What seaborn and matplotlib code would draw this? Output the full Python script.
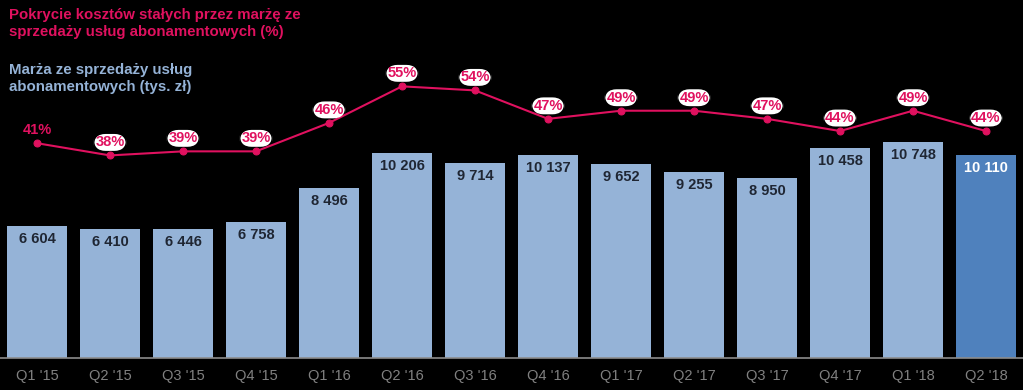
import numpy as np
import matplotlib
matplotlib.use("Agg")
import matplotlib.pyplot as plt
import seaborn as sns

quarters = ["Q1 '15", "Q2 '15", "Q3 '15", "Q4 '15", "Q1 '16", "Q2 '16", "Q3 '16",
            "Q4 '16", "Q1 '17", "Q2 '17", "Q3 '17", "Q4 '17", "Q1 '18", "Q2 '18"]
margin = [6604, 6410, 6446, 6758, 8496, 10206, 9714,
          10137, 9652, 9255, 8950, 10458, 10748, 10110]
coverage = [41, 38, 39, 39, 46, 55, 54, 47, 49, 49, 47, 44, 49, 44]

title_pct = ["Pokrycie kosztów stałych przez marżę ze", "sprzedaży usług abonamentowych (%)"]
title_bar = ["Marża ze sprzedaży usług", "abonamentowych (tys. zł)"]

PINK = "#E0115F"
LIGHT = "#95B3D7"
DARK = "#4F81BD"

sns.set_style("dark")
plt.rcParams["font.family"] = ["Liberation Sans", "DejaVu Sans"]

fig = plt.figure(figsize=(10.23, 3.9), dpi=100, facecolor="black")
ax = fig.add_axes([0, 32 / 390, 1, 358 / 390])
ax.set_facecolor("black")

colors = [LIGHT] * (len(quarters) - 1) + [DARK]
sns.barplot(x=quarters, y=margin, hue=quarters, palette=colors, legend=False,
            width=0.82, saturation=1, linewidth=0, ax=ax)
ax.set_xlim(-0.507, 13.507)
ax.set_ylim(0, 17850)
ax.set_yticks([])
ax.tick_params(axis="x", colors="#808080", labelsize=10.5, length=0, pad=8)
for s in ["top", "left", "right"]:
    ax.spines[s].set_visible(False)
ax.spines["bottom"].set_color("#8C8C8C")
ax.spines["bottom"].set_linewidth(1.2)
ax.grid(False)

for i, v in enumerate(margin):
    txt = f"{v:,}".replace(",", " ")
    ax.annotate(txt, (i, v), xytext=(0, -13), textcoords="offset pixels",
                ha="center", va="center", fontsize=10.5, fontweight="bold",
                color="white" if i == len(margin) - 1 else "#1F2633")

ax2 = ax.twinx()
sns.lineplot(x=np.arange(len(coverage)), y=coverage, color=PINK, lw=1.5,
             marker="o", markersize=5, markeredgecolor=PINK, ax=ax2)
ax2.set_ylim(-11.86, 76.25)
ax2.set_xlim(-0.507, 13.507)
ax2.set_yticks([])
ax2.axis("off")

for i, p in enumerate(coverage):
    kw = {}
    if i > 0:
        kw["bbox"] = dict(boxstyle="round,pad=0.1,rounding_size=0.8", fc="white", ec="none")
    ax2.annotate(f"{p}%", (i, p), xytext=(0, 13), textcoords="offset pixels",
                 ha="center", va="center", fontsize=10.5, fontweight="bold",
                 color=PINK, **kw)

for k, line in enumerate(title_pct):
    fig.text(9 / 1023, 1 - (19 + 17 * k) / 390, line, color=PINK, fontsize=10.8,
             fontweight="bold", va="baseline", ha="left")
for k, line in enumerate(title_bar):
    fig.text(9 / 1023, 1 - (74 + 17 * k) / 390, line, color=LIGHT, fontsize=10.8,
             fontweight="bold", va="baseline", ha="left")

fig.savefig("out.png", dpi=100, facecolor="black")
